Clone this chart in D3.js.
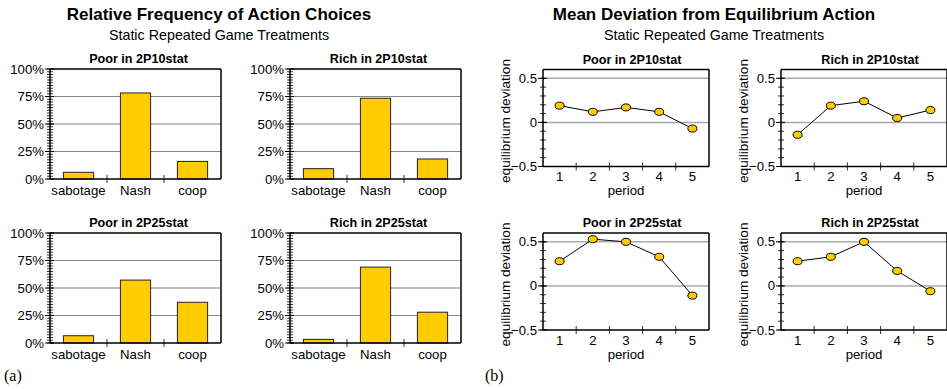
<!DOCTYPE html>
<html>
<head>
<meta charset="utf-8">
<script src="https://cdn.jsdelivr.net/npm/d3@7"></script>
<style>
  body { margin: 0; background: #fff; }
  text { font-family: "Liberation Sans", Arial, sans-serif; fill: #000; }
</style>
</head>
<body>
<script>
// ---------------- data ----------------
let actions = ['sabotage', 'Nash', 'coop'];
let freqTitles = ['Poor in 2P10stat', 'Rich in 2P10stat', 'Poor in 2P25stat', 'Rich in 2P25stat'];
let poor10Freq = [6.1, 78.2, 16.0];
let rich10Freq = [9.4, 73.4, 18.2];
let poor25Freq = [6.6, 57.2, 37.0];
let rich25Freq = [3.3, 69.0, 28.0];
let pctTicks = [0, 25, 50, 75, 100];

let periods = [1, 2, 3, 4, 5];
let poor10Dev = [0.19, 0.12, 0.17, 0.12, -0.07];
let rich10Dev = [-0.14, 0.19, 0.24, 0.05, 0.14];
let poor25Dev = [0.28, 0.53, 0.50, 0.33, -0.11];
let rich25Dev = [0.28, 0.33, 0.50, 0.17, -0.06];
let devTicks = [-0.5, 0, 0.5];

let freqSeries = [poor10Freq, rich10Freq, poor25Freq, rich25Freq];
let devSeries = [poor10Dev, rich10Dev, poor25Dev, rich25Dev];

let svg = d3.select('body')
    .append('svg')
        .attr('width', 947)
        .attr('height', 389);

let gold = '#ffcc00';
let fs = 13.2;

// ============================== headings ==============================
function heading(cx, title, sub) {
    svg.append('text')
        .attr('x', cx).attr('y', 20)
        .attr('text-anchor', 'middle')
        .attr('font-size', 17)
        .attr('font-weight', 'bold')
        .text(title);
    svg.append('text')
        .attr('x', cx).attr('y', 40)
        .attr('text-anchor', 'middle')
        .attr('font-size', 14.3)
        .text(sub);
}
heading(219, 'Relative Frequency of Action Choices', 'Static Repeated Game Treatments');
heading(714, 'Mean Deviation from Equilibrium Action', 'Static Repeated Game Treatments');

svg.append('text').attr('x', 4).attr('y', 381)
    .style('font-family', '"Liberation Serif", "Times New Roman", serif')
    .attr('font-size', 16).text('(a)');
svg.append('text').attr('x', 485).attr('y', 381)
    .style('font-family', '"Liberation Serif", "Times New Roman", serif')
    .attr('font-size', 16).text('(b)');

// ============================== frame helpers ==============================
function frame(g, w, h) {
    g.append('line').attr('x1', 0).attr('x2', w).attr('y1', 0).attr('y2', 0)
        .attr('stroke', '#000').attr('stroke-width', 1.5);
    g.append('line').attr('x1', w).attr('x2', w).attr('y1', 0).attr('y2', h)
        .attr('stroke', '#000').attr('stroke-width', 1.5);
}

function leftAxis(g, y, minor, major, h, fmt) {
    g.selectAll('.minor')
        .data(minor).enter()
        .append('line')
            .attr('x1', -3).attr('x2', 3)
            .attr('y1', d => y(d)).attr('y2', d => y(d))
            .attr('stroke', '#333').attr('stroke-width', 1);
    g.selectAll('.major')
        .data(major).enter()
        .append('line')
            .attr('x1', -5).attr('x2', 4)
            .attr('y1', d => y(d)).attr('y2', d => y(d))
            .attr('stroke', '#000').attr('stroke-width', 1);
    g.selectAll('.ylab')
        .data(major).enter()
        .append('text')
            .attr('x', -6)
            .attr('y', d => y(d) + 4.5)
            .attr('text-anchor', 'end')
            .attr('font-size', fs)
            .text(fmt);
    g.append('line').attr('x1', 0).attr('x2', 0).attr('y1', 0).attr('y2', h)
        .attr('stroke', '#000').attr('stroke-width', 1.5);
}

// band boundary ticks and baseline (paddingInner is zero so boundaries are exact)
function bottomAxis(g, x, keys, w, h) {
    g.selectAll('.xtick')
        .data(keys.slice(1)).enter()
        .append('line')
            .attr('x1', d => x(d)).attr('x2', d => x(d))
            .attr('y1', h - 4).attr('y2', h + 4)
            .attr('stroke', '#333');
    g.append('line').attr('x1', 0).attr('x2', w).attr('y1', h).attr('y2', h)
        .attr('stroke', '#000').attr('stroke-width', 1.5);
}

// ============================== (a) bar panels ==============================
let barX0 = [50, 290, 50, 290];
let barY0 = [69, 69, 233, 233];
let barW = 171, barH = 110;

freqSeries.forEach(function (vals, i) {
    let g = svg.append('g').attr('transform', 'translate(' + barX0[i] + ',' + barY0[i] + ')');
    let x = d3.scaleBand().domain(actions).range([0, barW]);
    let y = d3.scaleLinear().domain([0, 100]).range([barH, 0]);

    g.selectAll('.grid')
        .data(pctTicks.slice(1, 4)).enter()
        .append('line')
            .attr('x1', 0).attr('x2', barW)
            .attr('y1', d => y(d)).attr('y2', d => y(d))
            .attr('stroke', d => d === 50 ? '#aaa' : '#888')
            .attr('stroke-width', d => d === 50 ? 1.5 : 1);

    let bw = x.bandwidth() * 0.53;
    g.selectAll('rect')
        .data(vals).enter()
        .append('rect')
            .attr('x', (d, k) => x(actions[k]) + (x.bandwidth() - bw) / 2)
            .attr('y', d => y(d))
            .attr('width', bw)
            .attr('height', d => barH - y(d))
            .attr('fill', gold)
            .attr('stroke', '#222')
            .attr('stroke-width', 1);

    frame(g, barW, barH);
    leftAxis(g, y, d3.range(0, 100.1, 2.5), pctTicks, barH, d => d + '%');
    bottomAxis(g, x, actions, barW, barH);

    g.selectAll('.xlab')
        .data(actions).enter()
        .append('text')
            .attr('x', d => x(d) + x.bandwidth() / 2)
            .attr('y', barH + 15.5)
            .attr('text-anchor', 'middle')
            .attr('font-size', fs)
            .text(d => d);

    g.append('text')
        .attr('x', barW / 2 + 3).attr('y', -6)
        .attr('text-anchor', 'middle')
        .attr('font-size', 12.6)
        .attr('font-weight', 'bold')
        .text(freqTitles[i]);
});

// ============================== (b) line panels ==============================
let lineX0 = [543, 781, 543, 781];
let lineY0 = [69.5, 69.5, 233, 233];
let lineW = 166, lineH = 97;

devSeries.forEach(function (vals, i) {
    let g = svg.append('g').attr('transform', 'translate(' + lineX0[i] + ',' + lineY0[i] + ')');
    let x = d3.scaleBand().domain(periods).range([0, lineW]);
    let y = d3.scaleLinear().domain([-0.5, 0.6]).range([lineH, 0]);
    let cx = d => x(d) + x.bandwidth() / 2;

    g.selectAll('.grid')
        .data([0, 0.5]).enter()
        .append('line')
            .attr('x1', 0).attr('x2', lineW)
            .attr('y1', d => y(d)).attr('y2', d => y(d))
            .attr('stroke', '#aaa')
            .attr('stroke-width', 1.5);

    frame(g, lineW, lineH);
    leftAxis(g, y, d3.range(-5, 6).map(k => k / 10), devTicks, lineH, d => d === 0 ? '0' : d3.format('.1f')(d));
    bottomAxis(g, x, periods, lineW, lineH);

    g.selectAll('.xlab')
        .data(periods).enter()
        .append('text')
            .attr('x', d => cx(d))
            .attr('y', lineH + 14.5)
            .attr('text-anchor', 'middle')
            .attr('font-size', fs)
            .text(d => d);

    let lineGenerator = d3.line()
        .x((d, k) => cx(periods[k]))
        .y(d => y(d));

    g.append('path')
        .attr('fill', 'none')
        .attr('stroke', '#000')
        .attr('stroke-width', 1)
        .attr('d', lineGenerator(vals));

    g.selectAll('ellipse')
        .data(vals).enter()
        .append('ellipse')
            .attr('cx', (d, k) => cx(periods[k]))
            .attr('cy', d => y(d))
            .attr('rx', 4.5)
            .attr('ry', 3.5)
            .attr('fill', gold)
            .attr('stroke', '#000')
            .attr('stroke-width', 1);

    g.append('text')
        .attr('x', lineW / 2 + 6).attr('y', -6)
        .attr('text-anchor', 'middle')
        .attr('font-size', 12.6)
        .attr('font-weight', 'bold')
        .text(freqTitles[i]);

    g.append('text')
        .attr('x', lineW / 2).attr('y', lineH + 28.5)
        .attr('text-anchor', 'middle')
        .attr('font-size', fs)
        .text('period');

    g.append('text')
        .attr('transform', 'translate(-33,' + (lineH / 2 + 3) + ') rotate(-90)')
        .attr('text-anchor', 'middle')
        .attr('font-size', 13.6)
        .text('equilibrium deviation');
});
</script>
</body>
</html>
